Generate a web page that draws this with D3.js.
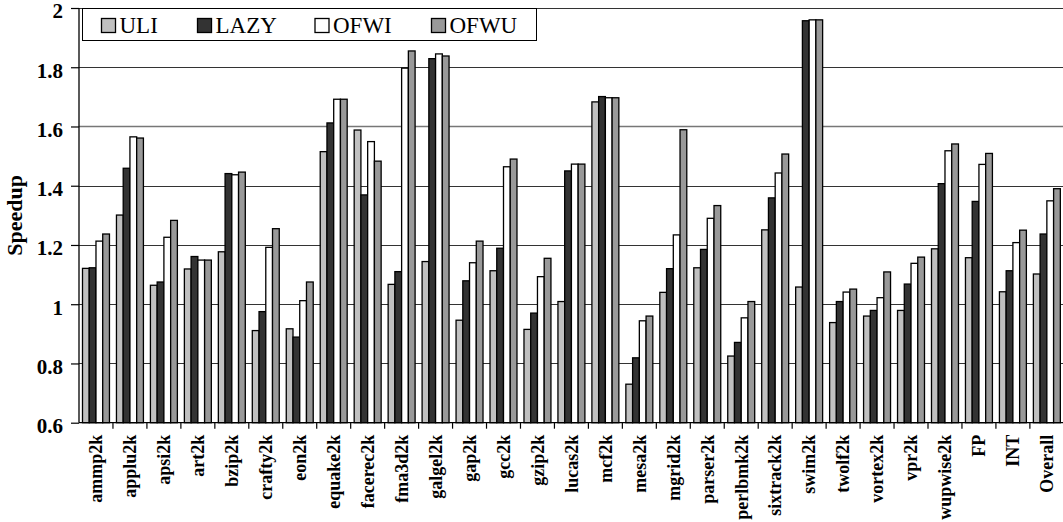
<!DOCTYPE html>
<html>
<head>
<meta charset="utf-8">
<script src="https://cdn.jsdelivr.net/npm/d3@7"></script>
<style>
  body { margin: 0; background: #fff; }
  svg { font-family: "Liberation Serif", "Times New Roman", serif; }
</style>
</head>
<body>
<svg id="chart" width="1063" height="522"></svg>
<script>
var categories = ["ammp2k", "applu2k", "apsi2k", "art2k", "bzip2k", "crafty2k", "eon2k", "equake2k",
  "facerec2k", "fma3d2k", "galgel2k", "gap2k", "gcc2k", "gzip2k", "lucas2k", "mcf2k", "mesa2k",
  "mgrid2k", "parser2k", "perlbmk2k", "sixtrack2k", "swim2k", "twolf2k", "vortex2k", "vpr2k",
  "wupwise2k", "FP", "INT", "Overall"];
var seriesNames = ["ULI", "LAZY", "OFWI", "OFWU"];
var seriesColors = ["#c0c0c0", "#333333", "#ffffff", "#999999"];

var uli  = [1.121, 1.301, 1.064, 1.119, 1.177, 0.911, 0.917, 1.515, 1.588, 1.067, 1.144, 0.946, 1.113, 0.915,
  1.009, 1.683, 0.730, 1.040, 1.123, 0.825, 1.251, 1.058, 0.938, 0.960, 0.979, 1.187, 1.157, 1.042, 1.102];
var lazy = [1.123, 1.459, 1.075, 1.161, 1.441, 0.975, 0.889, 1.612, 1.369, 1.110, 1.829, 1.079, 1.189, 0.970,
  1.450, 1.701, 0.819, 1.120, 1.185, 0.871, 1.359, 1.957, 1.009, 0.979, 1.068, 1.407, 1.347, 1.113, 1.237];
var ofwi = [1.213, 1.565, 1.226, 1.149, 1.437, 1.192, 1.012, 1.692, 1.549, 1.797, 1.845, 1.140, 1.464, 1.093,
  1.473, 1.697, 0.944, 1.234, 1.290, 0.954, 1.443, 1.960, 1.041, 1.022, 1.138, 1.518, 1.472, 1.208, 1.349];
var ofwu = [1.237, 1.561, 1.283, 1.149, 1.446, 1.255, 1.075, 1.692, 1.483, 1.855, 1.838, 1.213, 1.490, 1.155,
  1.473, 1.697, 0.960, 1.589, 1.333, 1.009, 1.507, 1.960, 1.051, 1.109, 1.159, 1.541, 1.509, 1.250, 1.390];
var yTicks = [0.6, 0.8, 1, 1.2, 1.4, 1.6, 1.8, 2];

var values = [uli, lazy, ofwi, ofwu];

var svg = d3.select("#chart");
var plotLeft = 79, plotTop = 8, plotBottom = 422.7, step = 33.96;
var plotRight = plotLeft + step * categories.length;

var x0 = d3.scaleBand().domain(categories).range([plotLeft, plotRight]);
var x1 = d3.scaleBand().domain(seriesNames).range([3.5, x0.step() - 3.5]);
var y = d3.scaleLinear().domain([0.6, 2]).range([plotBottom, plotTop]);

// gridlines
svg.append("g").selectAll("line")
  .data(yTicks.slice(1))
  .enter().append("line")
    .attr("x1", plotLeft).attr("x2", plotRight)
    .attr("y1", function(d) { return Math.round(y(d)) + 0.5; })
    .attr("y2", function(d) { return Math.round(y(d)) + 0.5; })
    .attr("stroke", function(d) { return d === 1.6 ? "#777" : "#333"; })
    .attr("stroke-width", function(d) { return d === 1.6 ? 1.6 : 1.2; });

// bars
var group = svg.append("g").selectAll("g")
  .data(categories)
  .enter().append("g")
    .attr("transform", function(d) { return "translate(" + x0(d) + ",0)"; });

group.selectAll("rect")
  .data(function(d, i) { return seriesNames.map(function(s, j) { return { s: s, j: j, v: values[j][i] }; }); })
  .enter().append("rect")
    .attr("x", function(d) { return x1(d.s); })
    .attr("width", x1.bandwidth())
    .attr("y", function(d) { return y(d.v); })
    .attr("height", function(d) { return plotBottom - y(d.v); })
    .attr("fill", function(d) { return seriesColors[d.j]; })
    .attr("stroke", "#000")
    .attr("stroke-width", 1.3);

// y axis
var yAxis = svg.append("g")
  .attr("transform", "translate(" + plotLeft + ",0)")
  .call(d3.axisLeft(y).tickValues(yTicks).tickSize(8).tickPadding(8)
    .tickFormat(function(d) { return d3.format("")(d); }));
yAxis.attr("font-family", null);
yAxis.select(".domain").attr("stroke", "#000").attr("stroke-width", 1.3)
  .attr("d", "M0," + plotTop + "V" + plotBottom);
yAxis.selectAll(".tick line").attr("stroke", "#000").attr("stroke-width", 1.2);
yAxis.selectAll(".tick text")
  .attr("font-size", 21).attr("font-weight", "bold").attr("fill", "#000")
  .attr("dy", "0.47em");

// x axis
var xAxis = svg.append("g")
  .attr("transform", "translate(0," + plotBottom + ")")
  .call(d3.axisBottom(x0).tickSize(0).tickFormat(""));
xAxis.select(".domain").attr("stroke", "#000").attr("stroke-width", 1.3)
  .attr("d", "M" + plotLeft + ",0H" + plotRight);

svg.append("g").selectAll("line")
  .data(categories)
  .enter().append("line")
    .attr("x1", function(d) { return x0(d) + x0.step(); })
    .attr("x2", function(d) { return x0(d) + x0.step(); })
    .attr("y1", plotBottom).attr("y2", plotBottom + 6)
    .attr("stroke", "#000").attr("stroke-width", 1.2);

svg.append("g").selectAll("text")
  .data(categories)
  .enter().append("text")
    .attr("transform", function(d) {
      return "translate(" + (x0(d) + x0.bandwidth() / 2) + "," + (plotBottom + 12) + ") rotate(-90)";
    })
    .attr("text-anchor", "end")
    .attr("dy", "0.35em")
    .attr("font-size", 18).attr("font-weight", "bold")
    .text(function(d) { return d; });

// y title
svg.append("text")
  .attr("transform", "translate(22," + ((plotTop + plotBottom) / 2) + ") rotate(-90)")
  .attr("text-anchor", "middle")
  .attr("font-size", 22).attr("font-weight", "bold")
  .text("Speedup");

// legend
var legend = svg.append("g");
legend.append("rect")
  .attr("x", 82.5).attr("y", 8.5).attr("width", 454).attr("height", 32)
  .attr("fill", "#fff").attr("stroke", "#000").attr("stroke-width", 1);

var legendX = [101.5, 197.5, 315, 431.5];
var item = legend.selectAll("g.item")
  .data(seriesNames)
  .enter().append("g")
    .attr("class", "item")
    .attr("transform", function(d, i) { return "translate(" + legendX[i] + ",18.5)"; });
item.append("rect")
  .attr("width", 14).attr("height", 14)
  .attr("fill", function(d, i) { return seriesColors[i]; })
  .attr("stroke", "#000").attr("stroke-width", 1.3);
item.append("text")
  .attr("x", 18).attr("y", 14.5)
  .attr("font-size", 23)
  .text(function(d) { return d; });
</script>
</body>
</html>
